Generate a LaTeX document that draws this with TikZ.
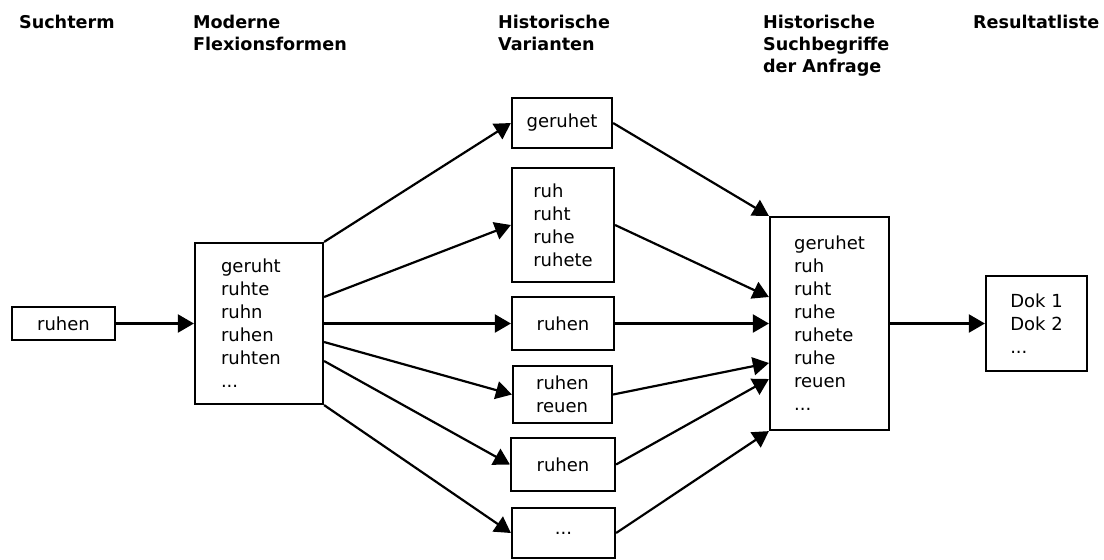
\documentclass[tikz,border=0pt]{standalone}
\usepackage{fontspec}
\setmainfont{DejaVu Sans}
\usetikzlibrary{arrows.meta}
\begin{document}
\begin{tikzpicture}[x=0.5pt, y=-0.5pt, >={Triangle[length=8pt,width=9pt]}, line width=1.1pt,
  every node/.style={font=\fontsize{9}{11.5}\selectfont},
  box/.style={draw, align=left, inner sep=0pt},
  head/.style={anchor=north west, align=left, inner sep=0pt, font=\fontsize{8.8}{11}\selectfont\bfseries}]
\useasboundingbox (0,0) rectangle (1104,559);
\node[head] (h1) at (18,14.5) {Suchterm};
\node[head] (h2) at (192,14.5) {Moderne\\Flexionsformen};
\node[head] (h3) at (497,14.5) {Historische\\Varianten};
\node[head] (h4) at (762,14.5) {Historische\\Suchbegriffe\\der Anfrage};
\node[head] (h5) at (972,14.5) {Resultatliste};

\node[box, minimum width=51.5pt, minimum height=16.5pt] (such) at (63.5,323.5) {ruhen};
\node[box, text width=38pt, inner xsep=13pt, minimum height=80.5pt] (mod) at (259,323.5) {geruht\\ruhte\\ruhn\\ruhen\\ruhten\\...};
\node[box, minimum width=50pt, minimum height=25pt] (var1) at (562,123) {geruhet};
\node[box, minimum width=51pt, minimum height=57pt] (var2) at (563,225) {ruh\\ruht\\ruhe\\ruhete};
\node[box, minimum width=51pt, minimum height=26.5pt] (var3) at (563,323.5) {ruhen};
\node[box, minimum width=49.5pt, minimum height=28.5pt] (var4) at (562.5,394.5) {ruhen\\reuen};
\node[box, minimum width=52pt, minimum height=26.5pt] (var5) at (563,464.5) {ruhen};
\node[box, minimum width=51.5pt, minimum height=25pt] (var6) at (563.5,533) {...};
\node[box, minimum width=59.5pt, minimum height=106.5pt] (anfrage) at (829.5,323.5) {geruhet\\ruh\\ruht\\ruhe\\ruhete\\ruhe\\reuen\\...};
\node[box, minimum width=50.5pt, minimum height=47.5pt] (res) at (1036.5,323.5) {Dok 1\\Dok 2\\...};

\draw[->] (such) -- (mod);
\draw[->] (mod.north east) -- (var1.west);
\draw[->] ([yshift=13.25pt]mod.east) -- (var2.west);
\draw[->] (mod.east) -- (var3.west);
\draw[->] ([yshift=-9.25pt]mod.east) -- (var4.west);
\draw[->] ([yshift=-18.75pt]mod.east) -- (var5.west);
\draw[->] (mod.south east) -- (var6.west);
\draw[->] (var1.east) -- (anfrage.north west);
\draw[->] (var2.east) -- ([yshift=13.25pt]anfrage.west);
\draw[->] (var3.east) -- (anfrage.west);
\draw[->] (var4.east) -- ([yshift=-19.75pt]anfrage.west);
\draw[->] (var5.east) -- ([yshift=-27.75pt]anfrage.west);
\draw[->] (var6.east) -- (anfrage.south west);
\draw[->] (anfrage) -- (res);
\end{tikzpicture}
\end{document}
